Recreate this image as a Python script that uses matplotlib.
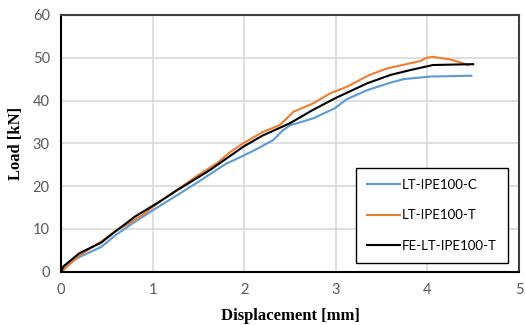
import matplotlib
matplotlib.use("Agg")
import matplotlib.pyplot as plt

# LT-IPE100-C (test, compression side)
c_x = [0, 0.05, 0.2, 0.44, 0.6, 0.81, 1.0, 1.24, 1.5, 1.8, 1.99, 2.15, 2.32, 2.42, 2.5,
       2.75, 2.99, 3.12, 3.34, 3.6, 3.74, 4.03, 4.48]
c_y = [0, 1.5, 3.4, 5.8, 8.6, 11.7, 14.3, 17.5, 21.0, 25.2, 27.1, 28.8, 30.8, 33.0, 34.2,
       35.8, 38.2, 40.3, 42.4, 44.2, 45.0, 45.6, 45.8]

# LT-IPE100-T (test, tension side)
t_x = [0, 0.05, 0.2, 0.45, 0.6, 0.72, 0.9, 1.1, 1.3, 1.5, 1.7, 1.85, 1.99, 2.2, 2.39,
       2.54, 2.75, 2.94, 3.12, 3.37, 3.56, 3.81, 3.92, 3.99, 4.06, 4.25, 4.39, 4.45]
t_y = [0, 0.8, 3.8, 7.2, 9.6, 11.0, 13.4, 16.7, 19.6, 22.6, 25.3, 28.0, 30.0, 32.6, 34.3,
       37.4, 39.3, 41.7, 43.2, 46.0, 47.5, 48.7, 49.2, 50.0, 50.2, 49.6, 48.7, 48.3]

# FE-LT-IPE100-T (finite element model)
fe_x = [0, 0.03, 0.2, 0.44, 0.6, 0.81, 1.08, 1.25, 1.38, 1.63, 1.99, 2.2, 2.5, 2.75,
        2.99, 3.34, 3.6, 3.81, 4.06, 4.5]
fe_y = [0, 1.3, 4.3, 6.8, 9.5, 12.9, 16.4, 18.8, 20.5, 23.8, 29.2, 31.8, 34.7, 37.8,
        40.5, 44.0, 46.0, 47.1, 48.3, 48.5]

xticks = [0, 1, 2, 3, 4, 5]
yticks = [0, 10, 20, 30, 40, 50, 60]

fig = plt.figure(figsize=(5.25, 3.25), dpi=100)
ax = fig.add_axes([0.116, 0.164, 0.8726, 0.790])

ax.plot(c_x, c_y, color="#5B9BD5", lw=1.5, label="LT-IPE100-C")
ax.plot(t_x, t_y, color="#ED7D31", lw=1.5, label="LT-IPE100-T")
ax.plot(fe_x, fe_y, color="black", lw=1.5, label="FE-LT-IPE100-T")

ax.set_xlim(0, 5)
ax.set_ylim(0, 60)
ax.set_xticks(xticks)
ax.set_yticks(yticks)
ax.grid(True, color="#d9d9d9", lw=1.2)
ax.set_axisbelow(True)
ax.tick_params(length=0, pad=8, labelsize=10.5, labelcolor="#595959")
for lab in ax.get_xticklabels() + ax.get_yticklabels():
    lab.set_family("Lato")

for side in ["left", "bottom"]:
    ax.spines[side].set_color("black")
    ax.spines[side].set_linewidth(1.5)
for side in ["top", "right"]:
    ax.spines[side].set_color("#404040")
    ax.spines[side].set_linewidth(1.5)

ax.set_xlabel("Displacement [mm]", family="Liberation Serif", weight="bold",
              fontsize=12, labelpad=8)
ax.set_ylabel("Load [kN]", family="Liberation Serif", weight="bold",
              fontsize=12, labelpad=6)

leg = ax.legend(loc="lower right", bbox_to_anchor=(0.976, 0.034), borderaxespad=0,
                prop={"family": "Lato", "size": 9.5}, handlelength=2.5,
                labelspacing=1.4, borderpad=0.85, fancybox=False,
                edgecolor="black", framealpha=1, handletextpad=0.15)
leg.get_frame().set_linewidth(1.0)

fig.savefig("out.png", dpi=100)
